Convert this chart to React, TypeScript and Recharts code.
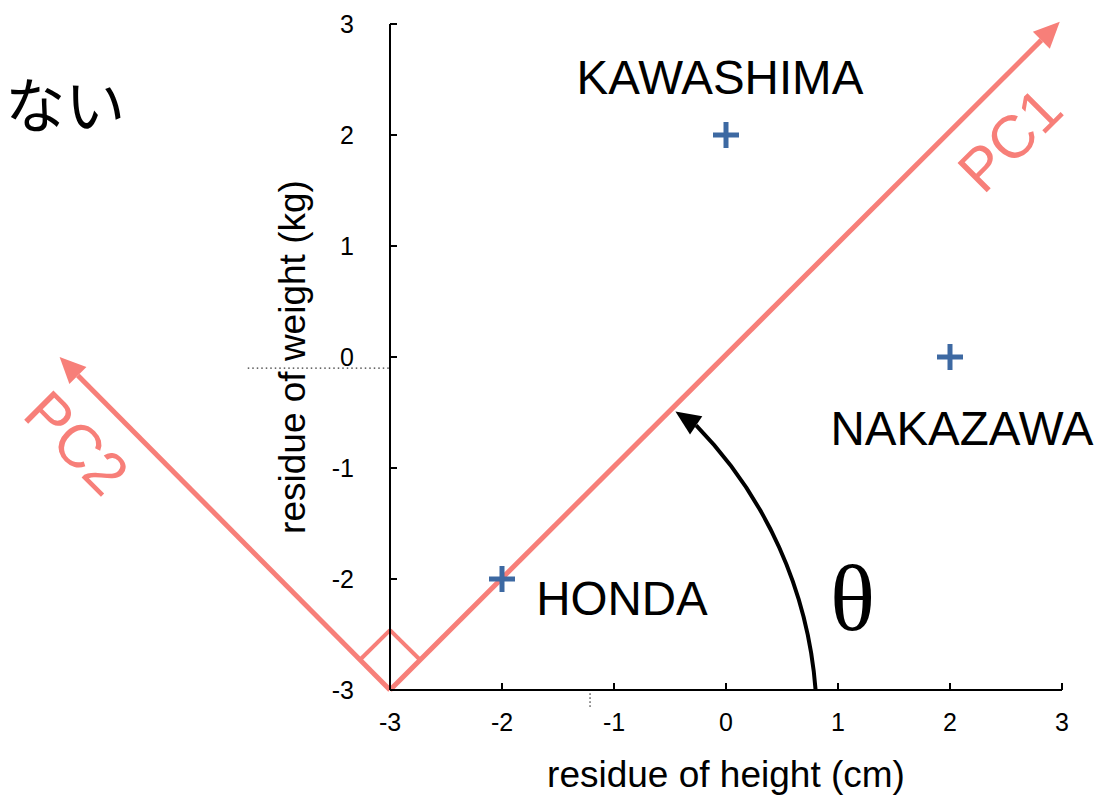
import React from 'react';
import {
  ScatterChart,
  Scatter,
  XAxis,
  YAxis,
  ReferenceLine,
  ReferenceDot,
  Label,
} from 'recharts';

// ---- data ----
const xTicks = [-3, -2, -1, 0, 1, 2, 3];
const yTicks = [-3, -2, -1, 0, 1, 2, 3];

const players = [
  { name: 'KAWASHIMA', height: 0, weight: 2 },
  { name: 'NAKAZAWA', height: 2, weight: 0 },
  { name: 'HONDA', height: -2, weight: -2 },
];

const nameLabels = [
  { text: 'KAWASHIMA', x: -0.054, y: 2.518 },
  { text: 'NAKAZAWA', x: 2.107, y: -0.64 },
  { text: 'HONDA', x: -0.929, y: -2.18 },
];

const origin = { x: -3, y: -3 };
const pc1Tip = { x: 2.98, y: 3.02 };
const pc2Tip = { x: -5.95, y: 0.0 };
const rightAngle = [
  { x: -3.27, y: -2.73 },
  { x: -3.0, y: -2.46 },
  { x: -2.73, y: -2.73 },
];
const thetaStart = { x: 0.8, y: -3 };

const pcLabels = [
  { text: 'PC1', x: 2.536, y: 1.955, angle: -45 },
  { text: 'PC2', x: -5.8, y: -0.775, angle: 45 },
];
const thetaLabel = { text: 'θ', x: 1.13, y: -2.17 };
const jpLabel = { text: 'ない', x: -5.9, y: 2.3 };

const dottedH = [{ x: -4.27, y: -0.1 }, { x: -3, y: -0.1 }];
const dottedV = [{ x: -1.214, y: -3.03 }, { x: -1.214, y: -3.16 }];

// ---- styles ----
const SANS = '"Liberation Sans", Arial, Helvetica, sans-serif';
const PC_COLOR = '#f77f79';
const MARK_COLOR = '#3d69a2';

const arrowShape = (color: string, width: number, headLen: number, headW: number) => (p: any) => {
  const { x1, y1, x2, y2 } = p;
  const dx = x2 - x1;
  const dy = y2 - y1;
  const len = Math.hypot(dx, dy) || 1;
  const ux = dx / len;
  const uy = dy / len;
  const bx = x2 - ux * headLen;
  const by = y2 - uy * headLen;
  const nx = -uy;
  const ny = ux;
  return (
    <g>
      <line x1={x1} y1={y1} x2={bx} y2={by} stroke={color} strokeWidth={width} />
      <polygon
        points={`${x2},${y2} ${bx + nx * headW},${by + ny * headW} ${bx - nx * headW},${by - ny * headW}`}
        fill={color}
      />
    </g>
  );
};

const thetaArcShape = (p: any) => {
  const { x1, y1, x2 } = p; // origin -> arc start
  const r = x2 - x1;
  const phi = (44.3 * Math.PI) / 180;
  const ex = x1 + 0.937 * r * Math.cos(phi);
  const ey = y1 - 0.937 * r * Math.sin(phi);
  const dxu = -0.83;
  const dyu = -0.557;
  const L = 25;
  const W = 11;
  const bx = ex - dxu * L;
  const by = ey - dyu * L;
  const nx = -dyu;
  const ny = dxu;
  return (
    <g>
      <path
        d={`M ${x2} ${y1} A ${r} ${r} 0 0 0 ${bx} ${by}`}
        fill="none"
        stroke="#000"
        strokeWidth={4}
      />
      <polygon
        points={`${ex},${ey} ${bx + nx * W},${by + ny * W} ${bx - nx * W},${by - ny * W}`}
        fill="#000"
      />
    </g>
  );
};

const plusShape = (p: any) => {
  const { cx, cy } = p;
  const h = 13;
  return (
    <g>
      <line x1={cx - h} y1={cy} x2={cx + h} y2={cy} stroke={MARK_COLOR} strokeWidth={5} />
      <line x1={cx} y1={cy - h} x2={cx} y2={cy + h} stroke={MARK_COLOR} strokeWidth={5} />
    </g>
  );
};

const textShape = (
  text: string,
  opts: { size: number; color?: string; family?: string; angle?: number }
) => (p: any) => {
  const { cx, cy } = p;
  return (
    <text
      x={cx}
      y={cy}
      textAnchor="middle"
      dominantBaseline="central"
      fontSize={opts.size}
      fill={opts.color || '#000'}
      fontFamily={opts.family || SANS}
      transform={opts.angle ? `rotate(${opts.angle} ${cx} ${cy})` : undefined}
    >
      {text}
    </text>
  );
};

const YTick = (p: any) => {
  const { x, y, payload } = p;
  const axisX = x + 36;
  return (
    <g>
      <line x1={axisX} y1={y} x2={axisX + 7} y2={y} stroke="#000" strokeWidth={2} />
      <text x={x} y={y} textAnchor="end" dominantBaseline="central" fontSize={25} fontFamily={SANS} fill="#000">
        {payload.value}
      </text>
    </g>
  );
};

const XTick = (p: any) => {
  const { x, y, payload } = p;
  const axisY = y - 32;
  return (
    <g>
      <line x1={x} y1={axisY} x2={x} y2={axisY - 7} stroke="#000" strokeWidth={2} />
      <text x={x} y={y} textAnchor="middle" dominantBaseline="central" fontSize={25} fontFamily={SANS} fill="#000">
        {payload.value}
      </text>
    </g>
  );
};

const YTitle = (p: any) => {
  const vb = p.viewBox || {};
  const cx = vb.x - 38;
  const cy = vb.y + vb.height / 2;
  return (
    <text
      x={cx}
      y={cy}
      textAnchor="middle"
      dominantBaseline="central"
      fontSize={37}
      fontFamily={SANS}
      fill="#000"
      transform={`rotate(-90 ${cx} ${cy})`}
    >
      residue of weight (kg)
    </text>
  );
};

const XTitle = (p: any) => {
  const vb = p.viewBox || {};
  const cx = vb.x + vb.width / 2;
  const cy = vb.y + 97;
  return (
    <text x={cx} y={cy} textAnchor="middle" fontSize={37} fontFamily={SANS} fill="#000">
      residue of height (cm)
    </text>
  );
};

export default function App() {
  return (
    <div style={{ position: 'absolute', left: 0, top: 0, width: 1110, height: 798, background: '#fff' }}>
      <ScatterChart width={1110} height={798} margin={{ top: 24, right: 48, bottom: 48, left: 330 }}>
        <XAxis
          type="number"
          dataKey="height"
          domain={[-3, 3]}
          ticks={xTicks}
          allowDataOverflow
          height={60}
          tickLine={false}
          tickSize={8}
          tickMargin={24}
          tick={<XTick />}
          axisLine={{ stroke: '#000', strokeWidth: 2 }}
        >
          <Label content={<XTitle />} />
        </XAxis>
        <YAxis
          type="number"
          dataKey="weight"
          domain={[-3, 3]}
          ticks={yTicks}
          allowDataOverflow
          width={60}
          tickLine={false}
          tickSize={8}
          tickMargin={28}
          tick={<YTick />}
          axisLine={{ stroke: '#000', strokeWidth: 2 }}
        >
          <Label content={<YTitle />} />
        </YAxis>

        <ReferenceLine
          segment={dottedH}
          ifOverflow="visible"
          stroke="#000"
          strokeWidth={1}
          strokeDasharray="1.5 3"
        />
        <ReferenceLine
          segment={dottedV}
          ifOverflow="visible"
          stroke="#000"
          strokeWidth={1}
          strokeDasharray="1.5 2.5"
        />

        <ReferenceLine
          segment={[origin, pc1Tip]}
          ifOverflow="visible"
          shape={arrowShape(PC_COLOR, 5, 26, 12)}
        />
        <ReferenceLine
          segment={[origin, pc2Tip]}
          ifOverflow="visible"
          shape={arrowShape(PC_COLOR, 5, 26, 12)}
        />
        <ReferenceLine
          segment={[rightAngle[0], rightAngle[1]]}
          ifOverflow="visible"
          stroke={PC_COLOR}
          strokeWidth={4}
        />
        <ReferenceLine
          segment={[rightAngle[1], rightAngle[2]]}
          ifOverflow="visible"
          stroke={PC_COLOR}
          strokeWidth={4}
        />
        <ReferenceLine segment={[origin, thetaStart]} ifOverflow="visible" shape={thetaArcShape} />

        <Scatter data={players} shape={plusShape} isAnimationActive={false} />

        {nameLabels.map((l) => (
          <ReferenceDot
            key={l.text}
            x={l.x}
            y={l.y}
            r={0}
            ifOverflow="visible"
            shape={textShape(l.text, { size: 47.5 })}
          />
        ))}
        {pcLabels.map((l) => (
          <ReferenceDot
            key={l.text}
            x={l.x}
            y={l.y}
            r={0}
            ifOverflow="visible"
            shape={textShape(l.text, { size: 60, color: PC_COLOR, angle: l.angle })}
          />
        ))}
        <ReferenceDot
          x={thetaLabel.x}
          y={thetaLabel.y}
          r={0}
          ifOverflow="visible"
          shape={textShape(thetaLabel.text, { size: 94, family: '"Liberation Serif", "DejaVu Serif", serif' })}
        />
        <ReferenceDot
          x={jpLabel.x}
          y={jpLabel.y}
          r={0}
          ifOverflow="visible"
          shape={textShape(jpLabel.text, { size: 60, family: '"Noto Sans CJK JP", sans-serif' })}
        />
      </ScatterChart>
    </div>
  );
}
